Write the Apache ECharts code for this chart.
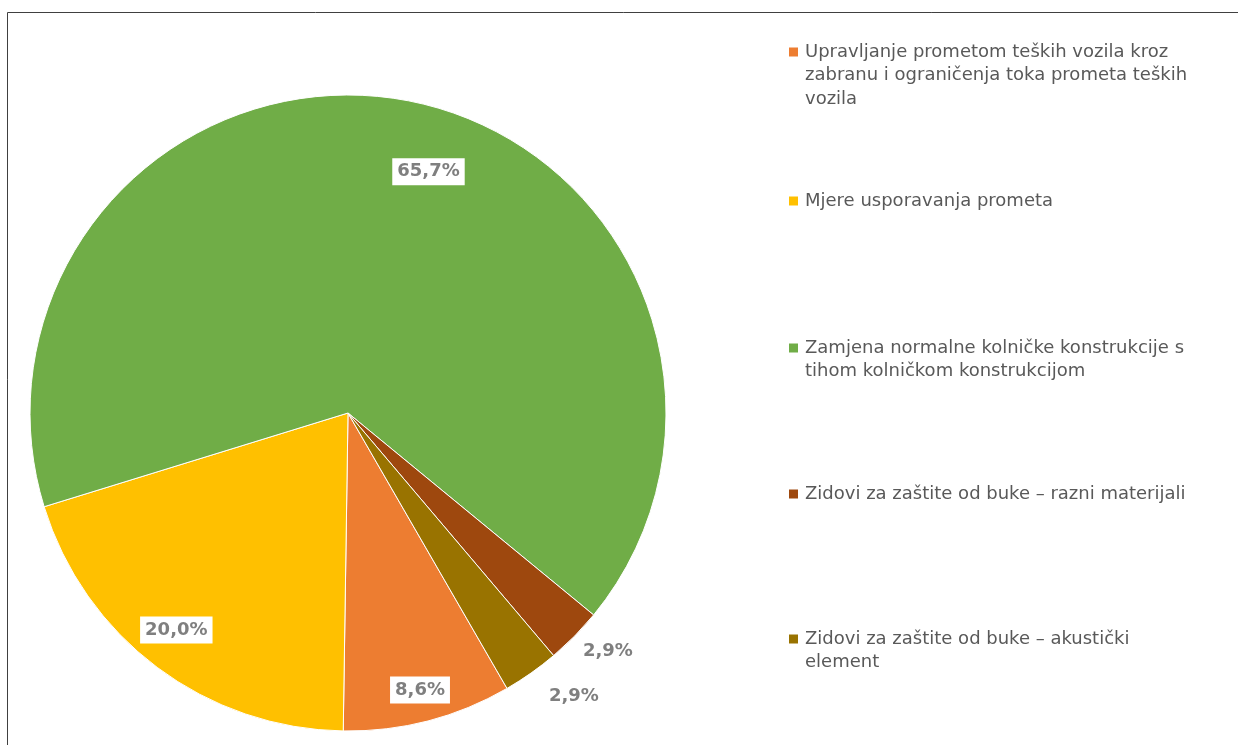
<!DOCTYPE html>
<html>
<head>
<meta charset="utf-8">
<script src="https://cdn.jsdelivr.net/npm/echarts@6/dist/echarts.min.js"></script>
<style>
html,body{margin:0;padding:0;background:#fff;}
#c{width:1238px;height:745px;}
</style>
</head>
<body>
<div id="c"></div>
<script>
// ---- data ----
const categories = [
  "Upravljanje prometom teških vozila kroz zabranu i ograničenja toka prometa teških vozila",
  "Mjere usporavanja prometa",
  "Zamjena normalne kolničke konstrukcije s tihom kolničkom konstrukcijom",
  "Zidovi za zaštite od buke – razni materijali",
  "Zidovi za zaštite od buke – akustički element"
];
const counts = [3, 7, 23, 1, 1];
const legendLines = [
  ["Upravljanje prometom teških vozila kroz", "zabranu i ograničenja toka prometa teških", "vozila"],
  ["Mjere usporavanja prometa"],
  ["Zamjena normalne kolničke konstrukcije s", "tihom kolničkom konstrukcijom"],
  ["Zidovi za zaštite od buke – razni materijali"],
  ["Zidovi za zaštite od buke – akustički", "element"]
];
const colors = ["#ED7D31", "#FFC000", "#70AD47", "#9E480E", "#997300"];

// ---- layout / style ----
const CX = 348, CY = 413, R = 318;
const FIRST_SLICE = 150; // degrees clockwise from 12 o'clock
const labelPlace = [ // [radius fraction, angle shift deg]
  [0.90, 0], [0.87, 1.5], [0.80, 7.3], [1.11, -2], [1.14, -3.4]
];
const labelOutside = [false, false, false, true, true];
const legendFirstLineY = [52, 201, 348, 494, 639];
const LH = 23.5;

const total = counts.reduce((a, b) => a + b, 0);
const cum = [];
counts.reduce((acc, v, i) => { cum[i] = acc; return acc + v; }, 0);

const chart = echarts.init(document.getElementById('c'), null, {renderer: 'canvas'});

const legends = categories.map((name, i) => {
  const n = legendLines[i].length;
  const h = (2 * n - 1) * LH;
  return {
    data: [name],
    orient: 'vertical',
    left: 789,
    top: legendFirstLineY[i] - h / 2,
    padding: 0,
    itemWidth: 9,
    itemHeight: 9,
    icon: 'rect',
    itemStyle: {borderWidth: 0},
    selectedMode: false,
    formatter: () => new Array(n).fill('').concat(legendLines[i]).slice(1).join('\n'),
    textStyle: {
      fontFamily: 'DejaVu Sans, Verdana, sans-serif',
      fontSize: 18,
      color: '#595959',
      lineHeight: LH,
      padding: [0, 0, 0, 2]
    }
  };
});

const option = {
  backgroundColor: '#fff',
  animation: false,
  color: colors,
  legend: legends,
  graphic: [{
    type: 'rect',
    silent: true,
    shape: {x: 7.5, y: 12.5, width: 1260, height: 760},
    style: {fill: 'none', stroke: '#404040', lineWidth: 1}
  }],
  series: [{
    type: 'pie',
    center: [CX, CY],
    radius: [0, R],
    startAngle: 90 - FIRST_SLICE,
    clockwise: true,
    avoidLabelOverlap: false,
    itemStyle: {borderColor: '#fff', borderWidth: 1},
    label: {
      show: true,
      position: 'inside',
      formatter: p => (p.value / total * 100).toFixed(1).replace('.', ',') + '%',
      fontFamily: 'DejaVu Sans, Verdana, sans-serif',
      fontSize: 18,
      fontWeight: 'bold',
      color: '#7F7F7F',
      backgroundColor: '#fff',
      padding: [5, 5, 4, 5]
    },
    labelLine: {show: false},
    emphasis: {disabled: true},
    labelLayout: function (params) {
      const i = params.dataIndex;
      const mid = FIRST_SLICE + 360 * (cum[i] + counts[i] / 2) / total + labelPlace[i][1];
      const a = mid * Math.PI / 180;
      const rr = labelPlace[i][0] * R;
      return {x: CX + rr * Math.sin(a), y: CY - rr * Math.cos(a)};
    },
    data: categories.map((name, i) => ({
      name: name,
      value: counts[i],
      label: labelOutside[i] ? {backgroundColor: 'transparent'} : {}
    }))
  }]
};
chart.setOption(option);
</script>
</body>
</html>
